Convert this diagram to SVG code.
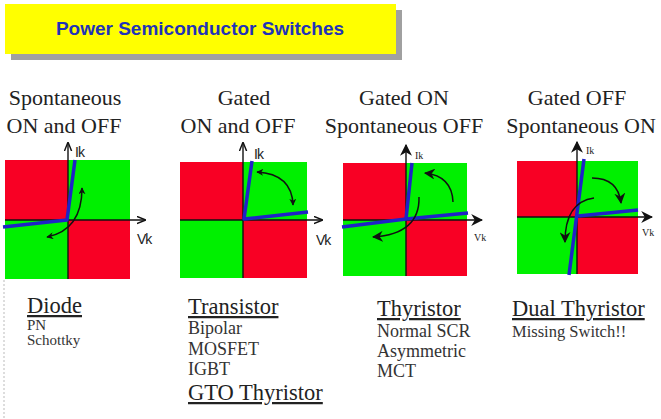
<svg xmlns="http://www.w3.org/2000/svg" width="661" height="419" viewBox="0 0 661 419">
<defs>
<marker id="ah" viewBox="0 0 10 10" refX="9" refY="5" markerWidth="7" markerHeight="7" markerUnits="userSpaceOnUse" orient="auto-start-reverse"><path d="M0,0 L10,5 L0,10 L3,5 Z" fill="#111"/></marker>
<marker id="ahb" viewBox="0 0 10 10" refX="9" refY="5" markerWidth="11" markerHeight="11" markerUnits="userSpaceOnUse" orient="auto-start-reverse"><path d="M0,0 L10,5 L0,10 L3,5 Z" fill="#111"/></marker>
<marker id="ax" viewBox="0 0 10 10" refX="9" refY="5" markerWidth="9" markerHeight="9" markerUnits="userSpaceOnUse" orient="auto"><path d="M0,1 L10,5 L0,9" fill="none" stroke="#111" stroke-width="1.6"/></marker>
<marker id="axb" viewBox="0 0 10 10" refX="9" refY="5" markerWidth="12" markerHeight="12" markerUnits="userSpaceOnUse" orient="auto"><path d="M0,0 L10,5 L0,10 L3,5 Z" fill="#111"/></marker>
</defs>
<style>
.red{fill:#f80024}
.grn{fill:#00f000}
.axis{stroke:#111;stroke-width:1.4;fill:none}
.blue{stroke:#1f22c8;stroke-width:3.5;fill:none;stroke-linejoin:round}
.arr{stroke:#111;stroke-width:1.5;fill:none}
.hd{font-family:"Liberation Serif","Times New Roman",serif;font-size:22px;fill:#222;text-anchor:middle}
.nm{font-family:"Liberation Serif","Times New Roman",serif;font-size:22.5px;fill:#222;text-decoration:underline}
.it{font-family:"Liberation Serif","Times New Roman",serif;font-size:18px;fill:#333}
.its{font-family:"Liberation Serif","Times New Roman",serif;font-size:15px;fill:#333}
.lbl{font-family:"Liberation Sans",Arial,sans-serif;font-size:14px;fill:#222;letter-spacing:-1px}
.lbs{font-family:"Liberation Serif","Times New Roman",serif;font-size:10px;fill:#222}
</style>
<rect width="661" height="419" fill="#fff"/>
<g id="title">
<rect x="11" y="10" width="391" height="50" fill="#a0a0a0"/>
<rect x="5" y="4" width="391" height="50" fill="#ffff00"/>
<text x="200" y="35" font-family="Liberation Sans,Arial,sans-serif" font-size="19" font-weight="bold" fill="#1f33b8" text-anchor="middle">Power Semiconductor Switches</text>
</g>
<line x1="4" y1="280" x2="4" y2="419" stroke="#bbb" stroke-width="1" stroke-dasharray="2,2"/>
<g id="headings">
<text class="hd" x="65" y="105">Spontaneous</text>
<text class="hd" x="64" y="133">ON and OFF</text>
<text class="hd" x="244" y="105">Gated</text>
<text class="hd" x="238" y="133">ON and OFF</text>
<text class="hd" x="404" y="105">Gated ON</text>
<text class="hd" x="404" y="133">Spontaneous OFF</text>
<text class="hd" x="577" y="105">Gated OFF</text>
<text class="hd" x="581" y="133">Spontaneous ON</text>
</g>
<g id="panel-diode">
<rect class="red" x="5" y="160" width="63" height="60"/>
<rect class="grn" x="68" y="160" width="62" height="60"/>
<rect class="grn" x="5" y="220" width="63" height="59"/>
<rect class="red" x="68" y="220" width="62" height="59"/>
<line class="axis" x1="68" y1="279" x2="68" y2="143" marker-end="url(#ax)"/>
<line class="axis" x1="5" y1="220" x2="145" y2="220" marker-end="url(#ax)"/>
<polyline class="blue" points="3,227 67,220 75,160"/>
<path class="arr" d="M82,188 Q82,230 47,237" marker-start="url(#ah)" marker-end="url(#ah)"/>
<text class="lbl" x="75" y="157">Ik</text>
<text class="lbl" x="137" y="244">Vk</text>
</g>
<g id="panel-transistor">
<rect class="red" x="180" y="162" width="63" height="58"/>
<rect class="grn" x="243" y="162" width="64" height="58"/>
<rect class="grn" x="180" y="220" width="63" height="58"/>
<rect class="red" x="243" y="220" width="64" height="58"/>
<line class="axis" x1="243" y1="278" x2="243" y2="143" marker-end="url(#ax)"/>
<line class="axis" x1="180" y1="220" x2="322" y2="220" marker-end="url(#ax)"/>
<polyline class="blue" points="252,161 244,219 308,212"/>
<path class="arr" d="M257,172 Q292,174 293,205" marker-start="url(#ah)" marker-end="url(#ah)"/>
<text class="lbl" x="254" y="159">Ik</text>
<text class="lbl" x="316" y="245">Vk</text>
</g>
<g id="panel-thyristor">
<rect class="red" x="343" y="163" width="63" height="57"/>
<rect class="grn" x="406" y="163" width="61" height="57"/>
<rect class="grn" x="343" y="220" width="63" height="56"/>
<rect class="red" x="406" y="220" width="61" height="56"/>
<line class="axis" x1="406" y1="276" x2="406" y2="145" marker-end="url(#axb)"/>
<line class="axis" x1="343" y1="220" x2="482" y2="220" marker-end="url(#axb)"/>
<polyline class="blue" points="342,227 406,219 468,213"/>
<line class="blue" x1="406" y1="219" x2="412" y2="163"/>
<path class="arr" d="M453,202 Q452,176 425,173" marker-end="url(#ahb)"/>
<path class="arr" d="M419,197 Q420,234 373,237" marker-end="url(#ahb)"/>
<text class="lbs" x="415" y="159">Ik</text>
<text class="lbs" x="474" y="241">Vk</text>
</g>
<g id="panel-dual">
<rect class="red" x="517" y="161" width="60" height="56"/>
<rect class="grn" x="577" y="161" width="61" height="56"/>
<rect class="grn" x="517" y="217" width="60" height="57"/>
<rect class="red" x="577" y="217" width="61" height="57"/>
<line class="axis" x1="577" y1="274" x2="577" y2="142" marker-end="url(#axb)"/>
<line class="axis" x1="517" y1="217" x2="652" y2="217" marker-end="url(#axb)"/>
<line class="blue" x1="569" y1="275" x2="584" y2="159"/>
<line class="blue" x1="578" y1="216" x2="638" y2="210"/>
<path class="arr" d="M592,178 Q618,178 621,203" marker-end="url(#ahb)"/>
<path class="arr" d="M594,198 Q565,202 565,242" marker-end="url(#ahb)"/>
<text class="lbs" x="586" y="154">Ik</text>
<text class="lbs" x="642" y="236">Vk</text>
</g>
<g id="list-diode">
<text class="nm" x="27" y="313">Diode</text>
<text class="its" x="27" y="330">PN</text>
<text class="its" x="27" y="345">Schottky</text>
</g>
<g id="list-transistor">
<text class="nm" x="188" y="314">Transistor</text>
<text class="it" x="188" y="334">Bipolar</text>
<text class="it" x="188" y="355">MOSFET</text>
<text class="it" x="188" y="375">IGBT</text>
<text class="nm" x="188" y="400">GTO Thyristor</text>
</g>
<g id="list-thyristor">
<text class="nm" x="377" y="316">Thyristor</text>
<text class="it" x="377" y="337">Normal SCR</text>
<text class="it" x="377" y="357">Asymmetric</text>
<text class="it" x="377" y="377">MCT</text>
</g>
<g id="list-dual">
<text class="nm" x="512" y="316">Dual Thyristor</text>
<text class="it" x="512" y="337" style="font-size:16.5px">Missing Switch!!</text>
</g>
</svg>
